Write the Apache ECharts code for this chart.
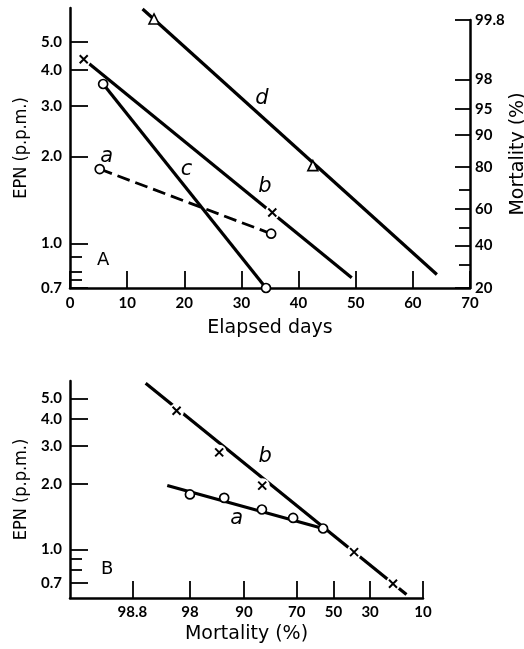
<!DOCTYPE html>
<html>
<head>
<meta charset="utf-8">
<style>
  html, body { margin: 0; padding: 0; background: #fff; }
  #chart { width: 524px; height: 649px; }
</style>
<script src="https://cdn.jsdelivr.net/npm/echarts@6/dist/echarts.min.js"></script>
</head>
<body>
<div id="chart"></div>
<script>
// ---- values ----
// panel A: EPN (p.p.m.) against elapsed days
const aDays = [5.2, 35.2];
const aEpn = [1.81, 1.08];
const bLineDays = [2.4, 49.3];
const bLineEpn = [4.35, 0.76];
const bPtDays = [2.4, 35.4];
const bPtEpn = [4.35, 1.28];
const cDays = [5.8, 34.3];
const cEpn = [3.57, 0.70];
const dLineDays = [12.7, 64.2];
const dLineEpn = [6.5, 0.78];
const dPtDays = [14.7, 42.5];
const dPtEpn = [6.0, 1.86];

// panel B: EPN against mortality (%)
const bLineMortB = [99.64, 14.8];
const bLineEpnB = [5.87, 0.618];
const bPtMortB = [98.76, 94.9, 84.6, 38.4, 19.7];
const bPtEpnB = [4.38, 2.81, 1.97, 0.97, 0.693];
const aLineMortB = [99.13, 55.9];
const aLineEpnB = [1.975, 1.248];
const aPtMortB = [98.0, 94.1, 84.7, 71.8, 55.9];
const aPtEpnB = [1.794, 1.73, 1.528, 1.397, 1.248];

// ticks
const epnTicks = [0.7, 1, 2, 3, 4, 5];
const epnTickLabels = ['0.7', '1.0', '2.0', '3.0', '4.0', '5.0'];
const epnMinorA = [0.9, 0.8, 0.75];
const epnMinorB = [0.9, 0.8];
const mortTicksA = [20, 40, 60, 80, 90, 95, 98, 99.8];
const mortTickLabelsA = ['20', '40', '60', '80', '90', '95', '98', '99.8'];
const mortMinorA = [30, 50, 70];
const mortTicksB = [99.8, 98, 90, 70, 50, 30, 10];
const mortTickLabelsB = ['98.8', '98', '90', '70', '50', '30', '10'];

// curve letters (data coordinates)
const curveLabelsA = [
  { name: 'a', day: 6.4, epn: 2.0 },
  { name: 'c', day: 20.4, epn: 1.80 },
  { name: 'b', day: 34.1, epn: 1.57 },
  { name: 'd', day: 33.6, epn: 3.17 }
];
const curveLabelsB = [
  { name: 'a', mort: 91.7, epn: 1.388 },
  { name: 'b', mort: 83.6, epn: 2.70 }
];
const panelLetterA = { name: 'A', day: 5.8, epn: 0.87 };
const panelLetterB = { name: 'B', mort: 99.94, epn: 0.805 };

// inverse normal (probit) – Acklam's approximation
function probit(pct) {
  const p = pct / 100;
  const a = [-3.969683028665376e+01, 2.209460984245205e+02, -2.759285104469687e+02, 1.383577518672690e+02, -3.066479806614716e+01, 2.506628277459239e+00];
  const b = [-5.447609879822406e+01, 1.615858368580409e+02, -1.556989798598866e+02, 6.680131188771972e+01, -1.328068155288572e+01];
  const c = [-7.784894002430293e-03, -3.223964580411365e-01, -2.400758277161838e+00, -2.549732539343734e+00, 4.374664141464968e+00, 2.938163982698783e+00];
  const d = [7.784695709041462e-03, 3.224671290700398e-01, 2.445134137142996e+00, 3.754408661907416e+00];
  const pl = 0.02425;
  let q, r;
  if (p < pl) {
    q = Math.sqrt(-2 * Math.log(p));
    return (((((c[0] * q + c[1]) * q + c[2]) * q + c[3]) * q + c[4]) * q + c[5]) / ((((d[0] * q + d[1]) * q + d[2]) * q + d[3]) * q + 1);
  }
  if (p > 1 - pl) {
    q = Math.sqrt(-2 * Math.log(1 - p));
    return -(((((c[0] * q + c[1]) * q + c[2]) * q + c[3]) * q + c[4]) * q + c[5]) / ((((d[0] * q + d[1]) * q + d[2]) * q + d[3]) * q + 1);
  }
  q = p - 0.5; r = q * q;
  return (((((a[0] * r + a[1]) * r + a[2]) * r + a[3]) * r + a[4]) * r + a[5]) * q / (((((b[0] * r + b[1]) * r + b[2]) * r + b[3]) * r + b[4]) * r + 1);
}
const lg = Math.log10;

function zip(xs, ys, fx, fy) {
  return xs.map(function (x, i) { return [fx ? fx(x) : x, fy ? fy(ys[i]) : ys[i]]; });
}
function labelFor(vals, labels) {
  return function (v) {
    for (let i = 0; i < vals.length; i++) if (Math.abs(vals[i] - v) < 1e-6) return labels[i];
    return '';
  };
}

const ink = '#000';
const tickFont = { fontFamily: 'Lato', fontWeight: 'bold', fontSize: 15, color: ink };
const nameFont = { fontFamily: 'DejaVu Sans', fontSize: 19, color: ink };
const epnNameFont = { fontFamily: 'DejaVu Sans Condensed, DejaVu Sans', fontSize: 18, color: ink };
const axisLine = { show: true, onZero: false, lineStyle: { color: ink, width: 2.5 } };
const tickLine = { color: ink, width: 1.8 };

// y axis in log10 units, x axis (B) / right axis (A) in probit units
function epnAxis(grid, min, max, minor) {
  const major = {
    gridIndex: grid, type: 'value', position: 'left', min: lg(min), max: lg(max),
    axisLine: axisLine,
    axisTick: { inside: true, length: 18, lineStyle: tickLine, customValues: epnTicks.map(lg) },
    axisLabel: Object.assign({ margin: 8, customValues: epnTicks.map(lg), formatter: labelFor(epnTicks.map(lg), epnTickLabels), showMinLabel: true, showMaxLabel: true }, tickFont),
    splitLine: { show: false },
    name: 'EPN (p.p.m.)', nameLocation: 'middle', nameGap: 40, nameRotate: 90, nameMoveOverlap: false, nameTextStyle: epnNameFont
  };
  const minorAxis = {
    gridIndex: grid, type: 'value', position: 'left', min: lg(min), max: lg(max),
    axisLine: { show: false, onZero: false },
    axisTick: { inside: true, length: 12, lineStyle: tickLine, customValues: minor.map(lg) },
    axisLabel: { show: false }, splitLine: { show: false }
  };
  return [major, minorAxis];
}

const yA = epnAxis(0, 0.7, 6.55, epnMinorA);
const yB = epnAxis(2, 0.595, 6.01, epnMinorB);

const lineStyle = { color: ink, width: 3.2 };
const openCircle = { symbol: 'circle', symbolSize: 9, itemStyle: { color: '#fff', opacity: 1, borderColor: ink, borderWidth: 1.7 } };
const openTriangle = { symbol: 'triangle', symbolSize: 10, itemStyle: { color: '#fff', opacity: 1, borderColor: ink, borderWidth: 1.6 } };
const crossMark = { symbol: 'path://M0,0L10,10M10,0L0,10', symbolSize: 8, itemStyle: { color: 'transparent', opacity: 1, borderColor: ink, borderWidth: 2 } };
const halo = { symbol: 'circle', symbolSize: 15, itemStyle: { color: '#fff', opacity: 1 } };

function lineS(xi, yi, data, extra) {
  return Object.assign({ type: 'line', xAxisIndex: xi, yAxisIndex: yi, data: data, symbol: 'none', lineStyle: lineStyle, z: 2, silent: true, animation: false }, extra || {});
}
function marks(xi, yi, data, style, z) {
  return Object.assign({ type: 'scatter', xAxisIndex: xi, yAxisIndex: yi, data: data, clip: false, z: z || 4, silent: true, animation: false }, style);
}
function textS(xi, yi, data, font) {
  return {
    type: 'scatter', xAxisIndex: xi, yAxisIndex: yi, data: data, symbolSize: 1, clip: false, z: 6, silent: true, animation: false,
    itemStyle: { color: 'transparent', opacity: 1 },
    label: Object.assign({ show: true, position: 'inside', formatter: '{b}', color: ink, opacity: 1 }, font)
  };
}

const letterFont = { fontFamily: 'DejaVu Sans', fontStyle: 'italic', fontSize: 21 };
const panelFont = { fontFamily: 'DejaVu Sans', fontSize: 18 };

const chart = echarts.init(document.getElementById('chart'));
chart.setOption({
  backgroundColor: '#fff',
  animation: false,
  grid: [
    { left: 70, top: 8, width: 400, height: 280, outerBoundsMode: 'none' },
    { left: 70, top: 20, width: 400, height: 268, outerBoundsMode: 'none' },
    { left: 70, top: 381, width: 353, height: 217, outerBoundsMode: 'none' }
  ],
  xAxis: [
    {
      gridIndex: 0, type: 'value', min: 0, max: 70, interval: 10,
      axisLine: axisLine,
      axisTick: { inside: true, length: 17, lineStyle: tickLine },
      axisLabel: Object.assign({ margin: 8 }, tickFont),
      splitLine: { show: false },
      name: 'Elapsed days', nameLocation: 'middle', nameGap: 31, nameMoveOverlap: false, nameTextStyle: nameFont
    },
    { gridIndex: 1, type: 'value', min: 0, max: 70, show: false },
    {
      gridIndex: 2, type: 'value', inverse: true, min: probit(10), max: 3.77,
      axisLine: axisLine,
      axisTick: { inside: true, length: 17, lineStyle: tickLine, customValues: mortTicksB.map(probit) },
      axisLabel: Object.assign({ margin: 7, customValues: mortTicksB.map(probit), formatter: labelFor(mortTicksB.map(probit), mortTickLabelsB), showMinLabel: true, showMaxLabel: true }, tickFont),
      splitLine: { show: false },
      name: 'Mortality (%)', nameLocation: 'middle', nameGap: 27, nameMoveOverlap: false, nameTextStyle: nameFont
    }
  ],
  yAxis: [
    yA[0], yA[1],
    {
      gridIndex: 1, type: 'value', position: 'right', min: probit(20), max: probit(99.8),
      axisLine: axisLine,
      axisTick: { inside: true, length: 15, lineStyle: tickLine, customValues: mortTicksA.map(probit) },
      axisLabel: Object.assign({ margin: 5, customValues: mortTicksA.map(probit), formatter: labelFor(mortTicksA.map(probit), mortTickLabelsA), showMinLabel: true, showMaxLabel: true }, tickFont),
      splitLine: { show: false },
      name: 'Mortality (%)', nameLocation: 'middle', nameGap: 39, nameRotate: 90, nameMoveOverlap: false, nameTextStyle: nameFont
    },
    {
      gridIndex: 1, type: 'value', position: 'right', min: probit(20), max: probit(99.8),
      axisLine: { show: false, onZero: false },
      axisTick: { inside: true, length: 11, lineStyle: tickLine, customValues: mortMinorA.map(probit) },
      axisLabel: { show: false }, splitLine: { show: false }
    },
    yB[0], yB[1]
  ],
  series: [
    // panel A
    lineS(0, 0, zip(aDays, aEpn, null, lg), { lineStyle: { color: ink, width: 2.8, type: [13, 6] } }),
    marks(0, 0, zip(aDays, aEpn, null, lg), openCircle),
    lineS(0, 0, zip(bLineDays, bLineEpn, null, lg)),
    marks(0, 0, zip(bPtDays, bPtEpn, null, lg), halo, 3),
    marks(0, 0, zip(bPtDays, bPtEpn, null, lg), crossMark),
    lineS(0, 0, zip(cDays, cEpn, null, lg)),
    marks(0, 0, zip(cDays, cEpn, null, lg), openCircle),
    lineS(0, 0, zip(dLineDays, dLineEpn, null, lg)),
    marks(0, 0, zip(dPtDays, dPtEpn, null, lg), openTriangle),
    textS(0, 0, curveLabelsA.map(function (l) { return { name: l.name, value: [l.day, lg(l.epn)] }; }), letterFont),
    textS(0, 0, [{ name: panelLetterA.name, value: [panelLetterA.day, lg(panelLetterA.epn)] }], panelFont),
    // panel B
    lineS(2, 4, zip(bLineMortB, bLineEpnB, probit, lg)),
    marks(2, 4, zip(bPtMortB, bPtEpnB, probit, lg), halo, 3),
    marks(2, 4, zip(bPtMortB, bPtEpnB, probit, lg), crossMark),
    lineS(2, 4, zip(aLineMortB, aLineEpnB, probit, lg)),
    marks(2, 4, zip(aPtMortB, aPtEpnB, probit, lg), openCircle),
    textS(2, 4, curveLabelsB.map(function (l) { return { name: l.name, value: [probit(l.mort), lg(l.epn)] }; }), letterFont),
    textS(2, 4, [{ name: panelLetterB.name, value: [probit(panelLetterB.mort), lg(panelLetterB.epn)] }], panelFont)
  ]
});
</script>
</body>
</html>
